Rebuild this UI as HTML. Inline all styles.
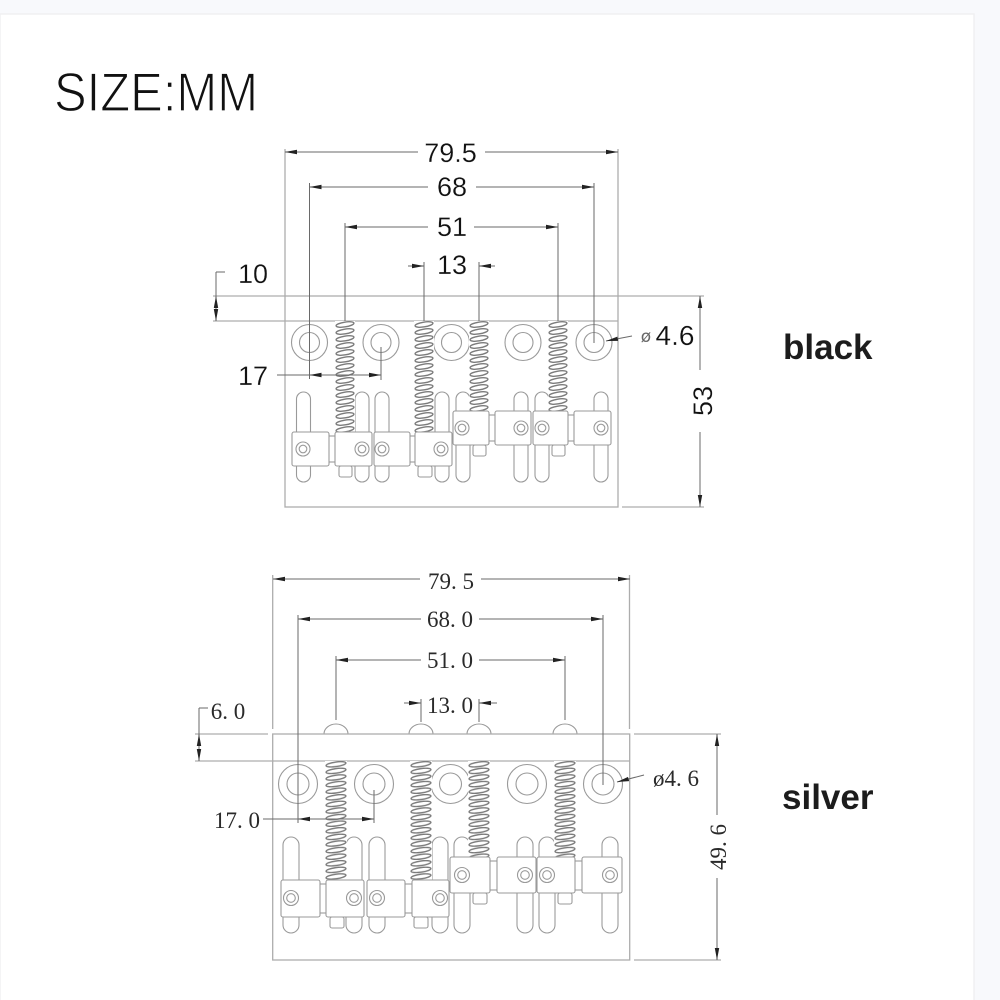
<!DOCTYPE html>
<html><head><meta charset="utf-8"><style>
html,body{margin:0;padding:0;background:#f8f9fc;width:1000px;height:1000px;overflow:hidden}
svg{display:block}
.d{stroke:#9a9a9a;stroke-width:1.1;fill:#fff}
.n{stroke:#9a9a9a;stroke-width:1.1;fill:none}
.k{stroke:#6a6a6a;stroke-width:1;fill:none}
.p{stroke:#adadad;stroke-width:1.3;fill:none}
.s{font-family:"Liberation Sans",sans-serif;font-size:27px;fill:#111;text-anchor:middle;stroke:#fff;stroke-width:.2}
.f{font-family:"Liberation Serif",serif;font-size:23px;fill:#2a2a2a;text-anchor:middle}
.b{font-family:"Liberation Sans",sans-serif;font-size:35px;font-weight:bold;fill:#1c1c1c}
</style></head><body>
<svg width="1000" height="1000" viewBox="0 0 1000 1000" xmlns="http://www.w3.org/2000/svg">
<defs>
<marker id="a" markerUnits="userSpaceOnUse" markerWidth="12" markerHeight="6" viewBox="0 0 12 6" refX="12" refY="3" orient="auto-start-reverse"><path d="M0 .8L12 3L0 5.200z" fill="#222"/></marker>
<pattern id="c1" patternUnits="userSpaceOnUse" x="0" y="0" width="20" height="7">
<rect width="20" height="7" fill="#fff"/>
<ellipse cx="10" cy="3.5" rx="9" ry="2.400" transform="rotate(-9 10 3.5)" fill="none" stroke="#7c7c7c" stroke-width="1.4"/>
</pattern>
<pattern id="c2" patternUnits="userSpaceOnUse" x="0" y="0" width="22" height="6.6">
<rect width="22" height="6.6" fill="#fff"/>
<ellipse cx="11" cy="3.3" rx="10" ry="2.300" transform="rotate(-8 11 3.3)" fill="none" stroke="#7a7a7a" stroke-width="1.4"/>
</pattern>
<rect id="sp1a" width="20" height="112" fill="url(#c1)"/>
<rect id="sp1b" width="20" height="91" fill="url(#c1)"/>
<rect id="sp2a" width="22" height="119" fill="url(#c2)"/>
<rect id="sp2b" width="22" height="99" fill="url(#c2)"/>
<g id="h1"><circle r="18" class="n"/><circle r="10" class="n"/></g>
<g id="h2"><circle r="19.5" class="n"/><circle r="11" class="n"/></g>
<g id="sc1"><circle r="7" class="d"/><circle r="3.8" class="n"/></g>
<g id="sc2"><circle r="7.5" class="d"/><circle r="4.3" class="n"/></g>
<rect id="sl1" x="-7" y="0" width="14" height="90" rx="7" class="d"/>
<rect id="sl2" x="-8" y="0" width="16" height="96" rx="8" class="d"/>
</defs>

<rect x="0" y="0" width="1000" height="1000" fill="#f8f9fc"/>
<rect x="0" y="14" width="974" height="990" fill="#fff" stroke="#f0f0f2" stroke-width="1.5"/>

<text x="54" y="111" font-family="'Liberation Sans',sans-serif" font-size="55" fill="#111" stroke="#fff" stroke-width="1.3" textLength="204" lengthAdjust="spacingAndGlyphs">SIZE:MM</text>
<text x="783" y="359" class="b">black</text>
<text x="782" y="809" class="b">silver</text>

<!-- BLACK -->
<g>
<rect x="285" y="296" width="333" height="211" class="p"/>
<path d="M285 149V296M618 149V296M213 296H285M618 296H704M213 321H618M622 507H704" class="p"/>
<use href="#h1" x="309.5" y="342.5"/><use href="#h1" x="381" y="342.5"/><use href="#h1" x="451.5" y="342.5"/><use href="#h1" x="523" y="342.5"/><use href="#h1" x="594" y="342.5"/>
<use href="#sl1" x="303.5" y="392"/><use href="#sl1" x="362" y="392"/><use href="#sl1" x="382" y="392"/><use href="#sl1" x="442" y="392"/>
<use href="#sl1" x="463" y="392"/><use href="#sl1" x="521" y="392"/><use href="#sl1" x="542" y="392"/><use href="#sl1" x="601" y="392"/>
<use href="#sp1a" x="335" y="321"/>
<use href="#sp1a" x="414" y="321"/>
<use href="#sp1b" x="469" y="321"/>
<use href="#sp1b" x="548" y="321"/>
<rect x="339" y="466" width="13" height="11" rx="2" class="d"/><rect x="418" y="466" width="14" height="11" rx="2" class="d"/>
<rect x="473" y="445" width="13" height="11" rx="2" class="d"/><rect x="552" y="445" width="13" height="11" rx="2" class="d"/>
<rect x="328" y="436" width="8" height="26" class="d"/><rect x="409" y="436" width="7" height="26" class="d"/>
<rect x="488" y="415" width="8" height="26" class="d"/><rect x="567" y="415" width="8" height="26" class="d"/>
<rect x="292" y="432" width="37" height="34" rx="2" class="d"/><rect x="335" y="432" width="37" height="34" rx="2" class="d"/><rect x="374" y="432" width="36" height="34" rx="2" class="d"/><rect x="415" y="432" width="37" height="34" rx="2" class="d"/>
<rect x="453" y="411" width="36" height="34" rx="2" class="d"/><rect x="495" y="411" width="36" height="34" rx="2" class="d"/><rect x="533" y="411" width="35" height="34" rx="2" class="d"/><rect x="574" y="411" width="37" height="34" rx="2" class="d"/>
<use href="#sc1" x="303" y="449"/><use href="#sc1" x="362" y="449"/><use href="#sc1" x="382" y="449"/><use href="#sc1" x="441" y="449"/>
<use href="#sc1" x="462" y="428"/><use href="#sc1" x="521" y="428"/><use href="#sc1" x="542" y="428"/><use href="#sc1" x="601" y="428"/>
<path d="M309.5 183V379M381 347V380M594 183V343M345 223V321M558 223V321M424 262V321M479 262V321M216 272V321" class="k"/>
<path d="M216 272H225" class="k"/>
<line x1="285" y1="152" x2="418" y2="152" class="k" marker-start="url(#a)"/><line x1="485" y1="152" x2="618" y2="152" class="k" marker-end="url(#a)"/>
<line x1="309.5" y1="187" x2="428" y2="187" class="k" marker-start="url(#a)"/><line x1="476" y1="187" x2="594" y2="187" class="k" marker-end="url(#a)"/>
<line x1="345" y1="227" x2="428" y2="227" class="k" marker-start="url(#a)"/><line x1="474" y1="227" x2="558" y2="227" class="k" marker-end="url(#a)"/>
<line x1="408" y1="266" x2="424" y2="266" class="k" marker-end="url(#a)"/><line x1="479" y1="266" x2="495" y2="266" class="k" marker-start="url(#a)"/>
<line x1="216" y1="296" x2="216" y2="308" class="k" marker-start="url(#a)"/><line x1="216" y1="308" x2="216" y2="321" class="k" marker-end="url(#a)"/>
<line x1="277" y1="375" x2="309.5" y2="375" class="k"/>
<line x1="309.5" y1="375" x2="381" y2="375" class="k" marker-start="url(#a)" marker-end="url(#a)"/>
<line x1="700" y1="296" x2="700" y2="370" class="k" marker-start="url(#a)"/><line x1="700" y1="432" x2="700" y2="507" class="k" marker-end="url(#a)"/>
<line x1="632" y1="336" x2="606" y2="341" class="k" marker-end="url(#a)"/>
<text x="450.500" y="162" class="s">79.5</text>
<text x="452" y="196" class="s">68</text>
<text x="452" y="236" class="s">51</text>
<text x="452" y="274" class="s">13</text>
<text x="253" y="283" class="s">10</text>
<text x="253" y="385" class="s">17</text>
<text x="675" y="345" class="s" style="font-size:28px">4.6</text>
<text x="646" y="342" font-family="'DejaVu Sans',sans-serif" font-size="17" fill="#666" text-anchor="middle">ø</text>
<text transform="translate(712,401) rotate(-90)" class="s">53</text>
</g>

<!-- SILVER -->
<g>
<path d="M324 734a12 10 0 0 1 24 0M409 734a12 10 0 0 1 24 0M467 734a12 10 0 0 1 24 0M553 734a12 10 0 0 1 24 0" class="n"/>
<rect x="272.700" y="734" width="357" height="226" class="p"/>
<path d="M272.700 575V729M629.500 575V729M195 734H268M634 734H721M195 761H630M634 960H721" class="p"/>
<use href="#h2" x="298" y="784"/><use href="#h2" x="374" y="784"/><use href="#h2" x="450.500" y="784"/><use href="#h2" x="527" y="784"/><use href="#h2" x="603" y="784"/>
<use href="#sl2" x="291" y="837"/><use href="#sl2" x="354" y="837"/><use href="#sl2" x="377" y="837"/><use href="#sl2" x="440" y="837"/>
<use href="#sl2" x="462" y="837"/><use href="#sl2" x="525" y="837"/><use href="#sl2" x="547" y="837"/><use href="#sl2" x="610" y="837"/>
<use href="#sp2a" x="325" y="761"/>
<use href="#sp2a" x="410" y="761"/>
<use href="#sp2b" x="468" y="761"/>
<use href="#sp2b" x="554" y="761"/>
<rect x="330" y="917" width="14" height="11" rx="2" class="d"/><rect x="414" y="917" width="14" height="11" rx="2" class="d"/>
<rect x="473" y="893" width="14" height="11" rx="2" class="d"/><rect x="558" y="893" width="14" height="11" rx="2" class="d"/>
<rect x="319" y="884" width="8" height="29" class="d"/><rect x="404" y="884" width="9" height="29" class="d"/>
<rect x="489" y="861" width="9" height="29" class="d"/><rect x="574" y="861" width="9" height="29" class="d"/>
<rect x="281" y="880" width="39" height="37" rx="2" class="d"/><rect x="326" y="880" width="38" height="37" rx="2" class="d"/><rect x="367" y="880" width="38" height="37" rx="2" class="d"/><rect x="412" y="880" width="37" height="37" rx="2" class="d"/>
<rect x="450" y="857" width="40" height="36" rx="2" class="d"/><rect x="497" y="857" width="39" height="36" rx="2" class="d"/><rect x="537" y="857" width="38" height="36" rx="2" class="d"/><rect x="582" y="857" width="40" height="36" rx="2" class="d"/>
<use href="#sc2" x="291" y="898"/><use href="#sc2" x="354" y="898"/><use href="#sc2" x="377" y="898"/><use href="#sc2" x="440" y="898"/>
<use href="#sc2" x="462" y="875"/><use href="#sc2" x="525" y="875"/><use href="#sc2" x="547" y="875"/><use href="#sc2" x="610" y="875"/>
<path d="M298 615V823M374 790V823M603 615V785M336 656V720M565 656V720M421 699V722M479 699V722M199 708V761M199 708H208" class="k"/>
<line x1="273" y1="579" x2="420" y2="579" class="k" marker-start="url(#a)"/><line x1="481" y1="579" x2="630" y2="579" class="k" marker-end="url(#a)"/>
<line x1="298" y1="619" x2="421" y2="619" class="k" marker-start="url(#a)"/><line x1="479" y1="619" x2="603" y2="619" class="k" marker-end="url(#a)"/>
<line x1="336" y1="660" x2="421" y2="660" class="k" marker-start="url(#a)"/><line x1="479" y1="660" x2="565" y2="660" class="k" marker-end="url(#a)"/>
<line x1="404" y1="703" x2="421" y2="703" class="k" marker-end="url(#a)"/><line x1="479" y1="703" x2="497" y2="703" class="k" marker-start="url(#a)"/>
<line x1="199" y1="734" x2="199" y2="747" class="k" marker-start="url(#a)"/><line x1="199" y1="747" x2="199" y2="761" class="k" marker-end="url(#a)"/>
<line x1="263" y1="819" x2="298" y2="819" class="k"/>
<line x1="298" y1="819" x2="374" y2="819" class="k" marker-start="url(#a)" marker-end="url(#a)"/>
<line x1="717" y1="734" x2="717" y2="815" class="k" marker-start="url(#a)"/><line x1="717" y1="878" x2="717" y2="960" class="k" marker-end="url(#a)"/>
<line x1="644" y1="775" x2="617" y2="782" class="k" marker-end="url(#a)"/>
<text x="451" y="589" class="f">79. 5</text>
<text x="450" y="627" class="f">68. 0</text>
<text x="450" y="668" class="f">51. 0</text>
<text x="450" y="713" class="f">13. 0</text>
<text x="228" y="719" class="f">6. 0</text>
<text x="237" y="828" class="f">17. 0</text>
<text x="676" y="786" class="f">ø4. 6</text>
<text transform="translate(726,847) rotate(-90)" class="f">49. 6</text>
</g>
</svg>
</body></html>
